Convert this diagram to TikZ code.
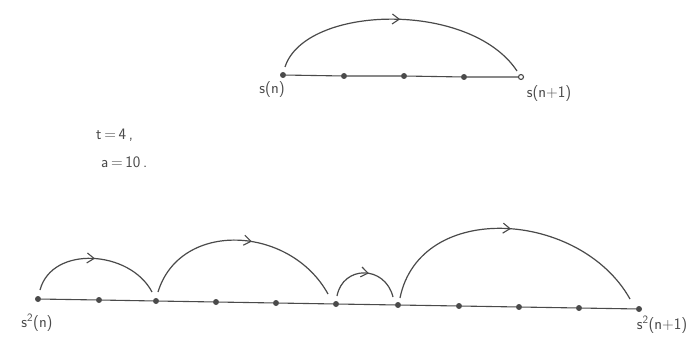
\documentclass[tikz,border=0pt]{standalone}
\usetikzlibrary{arrows.meta,decorations.markings}
\definecolor{ink}{HTML}{4A4A4A}
\tikzset{
  x=1pt,y=-1pt,
  dotn/.style={circle,fill=ink,inner sep=0pt,minimum size=6pt},
  opendot/.style={circle,draw=ink,fill=white,line width=1.1pt,inner sep=0pt,minimum size=5pt},
  baseline/.style={draw=ink,line width=1.1pt},
  hop/.style={draw=ink,line width=1.2pt,postaction={decorate},
    decoration={markings,mark=at position #1 with {\arrow{Straight Barb[length=7pt,width=10pt,line width=1.1pt]}}}},
  hop/.default=0.5,
  lbl/.style={text=ink,font=\sffamily\fontsize{16}{19}\selectfont,inner sep=1pt},
}
\begin{document}
\begin{tikzpicture}
\useasboundingbox[fill=white] (0,0) rectangle (695,339);
% top line
\node[dotn] (t0) at (283,75) {};
\node[dotn] (t1) at (344,76) {};
\node[dotn] (t2) at (404,76) {};
\node[dotn] (t3) at (464,77) {};
\node[opendot] (t4) at (521,77) {};
\draw[baseline] (t0) -- (t1) -- (t2) -- (t3) -- (t4);
\node[lbl] (ls) at (272,90) {s(n)};
\node[lbl] (lsn) at (549,94) {s(n+1)};
\coordinate (a0) at (285,67);
\coordinate (a1) at (517,71);
\draw[hop=0.5] (a0) .. controls (305,5) and (470,0) .. (a1);
% parameters
\node[lbl,anchor=west] (tt) at (95,135) {t\,=\,4\,,};
\node[lbl,anchor=west] (aa) at (100,162) {a\,=\,10\,.};
% bottom line
\node[dotn] (b0) at (38,299) {};
\node[dotn] (b1) at (99,300) {};
\node[dotn] (b2) at (156,301) {};
\node[dotn] (b3) at (216,302) {};
\node[dotn] (b4) at (276,303) {};
\node[dotn] (b5) at (336,304) {};
\node[dotn] (b6) at (398,305) {};
\node[dotn] (b7) at (459,306) {};
\node[dotn] (b8) at (519,307) {};
\node[dotn] (b9) at (579,308) {};
\node[dotn] (b10) at (639,309) {};
\draw[baseline] (b0) -- (b1) -- (b2) -- (b3) -- (b4) -- (b5) -- (b6) -- (b7) -- (b8) -- (b9) -- (b10);
\node[lbl] (l2) at (37,323) {s\textsuperscript{2}(n)};
\node[lbl] (l2n) at (662,325) {s\textsuperscript{2}(n+1)};
\coordinate (c0) at (40,290);
\coordinate (c1) at (152,292);
\draw[hop=0.5] (c0) .. controls (52,245) and (130,250) .. (c1);
\coordinate (c2) at (158,292);
\coordinate (c3) at (328,294);
\draw[hop=0.55] (c2) .. controls (180,220) and (290,225) .. (c3);
\coordinate (c4) at (337,296);
\coordinate (c5) at (393,297);
\draw[hop=0.55] (c4) .. controls (343,265) and (385,265) .. (c5);
\coordinate (c6) at (400,298);
\coordinate (c7) at (630,299);
\draw[hop=0.5] (c6) .. controls (420,200) and (580,210) .. (c7);
\end{tikzpicture}
\end{document}
